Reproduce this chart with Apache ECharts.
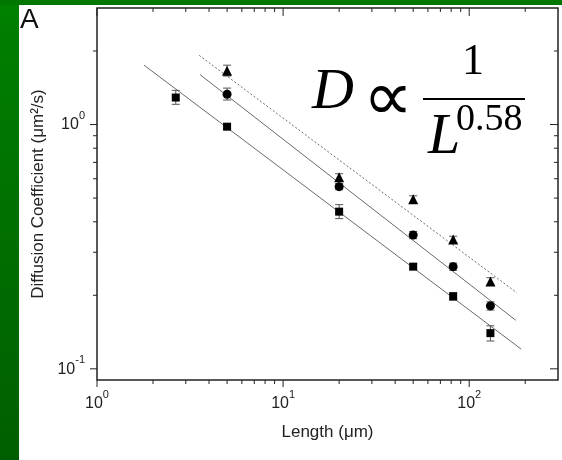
<!DOCTYPE html>
<html lang="en">
<head>
<meta charset="UTF-8">
<title>Diffusion coefficient vs length</title>
<style>
    html, body { margin: 0; padding: 0; background: #fff; }
    #chart { width: 562px; height: 460px; }
</style>
</head>
<body>
<div id="chart"></div>
<script src="https://cdn.jsdelivr.net/npm/echarts@6/dist/echarts.min.js"></script>
<script>
/* lengths (um) */
var lengthsSq = [2.65, 5, 20, 50, 82, 130];
var lengths = [5, 20, 50, 82, 130];
/* squares: D and error bar ends */
var sqD  = [1.29, 0.98, 0.440, 0.262, 0.198, 0.140];
var sqLo = [1.21, 0.96, 0.412, 0.255, 0.191, 0.130];
var sqHi = [1.38, 1.00, 0.470, 0.269, 0.205, 0.150];
/* circles */
var ciD  = [1.33, 0.557, 0.353, 0.262, 0.181];
var ciLo = [1.26, 0.541, 0.341, 0.253, 0.174];
var ciHi = [1.41, 0.573, 0.365, 0.271, 0.188];
/* triangles */
var trD  = [1.66, 0.608, 0.494, 0.338, 0.228];
var trLo = [1.58, 0.588, 0.478, 0.327, 0.220];
var trHi = [1.75, 0.629, 0.511, 0.349, 0.236];
/* fitted lines (start / end) */
var fitSqL = [1.79, 190], fitSqD = [1.75, 0.1205];
var fitCiL = [3.58, 178], fitCiD = [1.60, 0.158];
var fitTrL = [3.54, 180], fitTrD = [1.92, 0.205];
/* ticks */
var xMajor = [1, 10, 100];
var xMinor = [2, 3, 4, 5, 6, 7, 8, 9, 20, 30, 40, 50, 60, 70, 80, 90, 200];
var yMajor = [0.1, 1];
var yMinor = [0.2, 0.3, 0.4, 0.5, 0.6, 0.7, 0.8, 0.9, 2];

var sans = '"Liberation Sans", Arial, sans-serif';
var serif = '"Liberation Serif", "Times New Roman", serif';
var frame = '#222';

var chart = echarts.init(document.getElementById('chart'));

function pow10Label(v) {
    var l = Math.log10(v);
    var e = Math.round(l);
    if (Math.abs(l - e) > 1e-6) return '';
    return '{b|10}{s|' + e + '}';
}
var labelRich = {
    b: {fontSize: 16, fontFamily: sans, color: '#222', padding: [7, 0, 6, 0]},
    s: {fontSize: 11, fontFamily: sans, color: '#222', verticalAlign: 'top'}
};

/* ticks drawn through the axes: bottom/left outward, top/right inward */
function tickSeries(axis, values, major) {
    return {
        type: 'custom',
        silent: true,
        z: 5,
        data: values.map(function (v) { return axis === 'x' ? [v, 1] : [1, v]; }),
        renderItem: function (params, api) {
            var cs = params.coordSys;
            var p = api.coord([api.value(0), api.value(1)]);
            var s = {stroke: frame, lineWidth: 1};
            var out = major ? 7 : 4;
            var inn = major ? 8 : 4;
            if (axis === 'x') {
                var b = cs.y + cs.height;
                return {type: 'group', children: [
                    {type: 'line', shape: {x1: p[0], y1: b, x2: p[0], y2: b + out}, style: s},
                    {type: 'line', shape: {x1: p[0], y1: cs.y, x2: p[0], y2: cs.y + inn}, style: s}
                ]};
            }
            var r = cs.x + cs.width;
            return {type: 'group', children: [
                {type: 'line', shape: {x1: cs.x - out, y1: p[1], x2: cs.x, y2: p[1]}, style: s},
                {type: 'line', shape: {x1: r - inn, y1: p[1], x2: r, y2: p[1]}, style: s}
            ]};
        }
    };
}

function errSeries(xs, lo, hi) {
    return {
        type: 'custom',
        silent: true,
        z: 2,
        encode: {x: 0, y: [1, 2]},
        data: xs.map(function (x, i) { return [x, lo[i], hi[i]]; }),
        renderItem: function (params, api) {
            var a = api.coord([api.value(0), api.value(1)]);
            var b = api.coord([api.value(0), api.value(2)]);
            var s = {stroke: '#555', lineWidth: 1};
            return {type: 'group', children: [
                {type: 'line', shape: {x1: a[0], y1: a[1], x2: b[0], y2: b[1]}, style: s},
                {type: 'line', shape: {x1: a[0] - 4, y1: a[1], x2: a[0] + 4, y2: a[1]}, style: s},
                {type: 'line', shape: {x1: b[0] - 4, y1: b[1], x2: b[0] + 4, y2: b[1]}, style: s}
            ]};
        }
    };
}

function pts(xs, ys) {
    return xs.map(function (x, i) { return [x, ys[i]]; });
}

function fitLine(xs, ys, type) {
    return {
        type: 'line',
        silent: true,
        z: 1,
        showSymbol: false,
        symbol: 'none',
        data: pts(xs, ys),
        lineStyle: {color: '#6a6a6a', width: 1, type: type}
    };
}

function scatter(xs, ys, symbol, size) {
    return {
        type: 'scatter',
        z: 3,
        symbol: symbol,
        symbolSize: size,
        itemStyle: {color: '#000', opacity: 1},
        data: pts(xs, ys)
    };
}

var option = {
    backgroundColor: '#fff',
    animation: false,
    grid: {
        left: 97, top: 8, width: 461, height: 372,
        show: true, borderColor: frame, borderWidth: 1.5,
        outerBoundsMode: 'none'
    },
    xAxis: {
        type: 'log', logBase: 10, min: 1, max: 300,
        name: 'Length (\u03bcm)',
        nameLocation: 'middle',
        nameGap: 44,
        nameTextStyle: {fontSize: 17, fontFamily: sans, color: '#222'},
        axisLine: {show: false},
        axisTick: {show: false},
        splitLine: {show: false},
        axisLabel: {margin: 9, formatter: pow10Label, rich: labelRich}
    },
    yAxis: {
        type: 'log', logBase: 10, min: 0.09, max: 3,
        name: 'Diffusion Coefficient (\u03bcm\u00b2/s)',
        nameLocation: 'middle',
        nameGap: 50,
        nameTextStyle: {fontSize: 17, fontFamily: sans, color: '#222'},
        axisLine: {show: false},
        axisTick: {show: false},
        splitLine: {show: false},
        axisLabel: {margin: 12, formatter: pow10Label, rich: labelRich}
    },
    graphic: [
        {type: 'rect', z: -10, shape: {x: 0, y: 0, width: 19, height: 460},
            style: {fill: new echarts.graphic.LinearGradient(0, 0, 0, 1, [
                {offset: 0, color: '#008000'}, {offset: 1, color: '#005e00'}])}},
        {type: 'rect', z: -10, shape: {x: 0, y: 0, width: 562, height: 5}, style: {fill: '#007800'}},
        {type: 'text', x: 20, y: 6, style: {text: 'A', font: '28px ' + sans, fill: '#111', verticalAlign: 'top', textVerticalAlign: 'top'}},
        /* D ∝ 1 / L^0.58 */
        {type: 'text', x: 312, y: 64, style: {text: 'D', font: 'italic 58px ' + serif, fill: '#000', verticalAlign: 'top', textVerticalAlign: 'top'}},
        {type: 'text', x: 388, y: 67, style: {text: '\u221d', font: '70px ' + serif, fill: '#000', align: 'center', textAlign: 'center', verticalAlign: 'top', textVerticalAlign: 'top'}},
        {type: 'text', x: 473, y: 40, style: {text: '1', font: '44px ' + serif, fill: '#000', align: 'center', textAlign: 'center', verticalAlign: 'top', textVerticalAlign: 'top'}},
        {type: 'rect', shape: {x: 423, y: 98, width: 102, height: 2}, style: {fill: '#000'}},
        {type: 'text', x: 428, y: 109, style: {text: 'L', font: 'italic 58px ' + serif, fill: '#000', verticalAlign: 'top', textVerticalAlign: 'top'}},
        {type: 'text', x: 456, y: 101, style: {text: '0.58', font: '38px ' + serif, fill: '#000', verticalAlign: 'top', textVerticalAlign: 'top'}}
    ],
    series: [
        fitLine(fitSqL, fitSqD, 'solid'),
        fitLine(fitCiL, fitCiD, 'solid'),
        fitLine(fitTrL, fitTrD, [2, 2]),
        errSeries(lengthsSq, sqLo, sqHi),
        errSeries(lengths, ciLo, ciHi),
        errSeries(lengths, trLo, trHi),
        scatter(lengthsSq, sqD, 'rect', 8),
        scatter(lengths, ciD, 'circle', 9),
        scatter(lengths, trD, 'triangle', 10),
        tickSeries('x', xMajor, true),
        tickSeries('x', xMinor, false),
        tickSeries('y', yMajor, true),
        tickSeries('y', yMinor, false)
    ]
};
chart.setOption(option);
</script>
</body>
</html>
